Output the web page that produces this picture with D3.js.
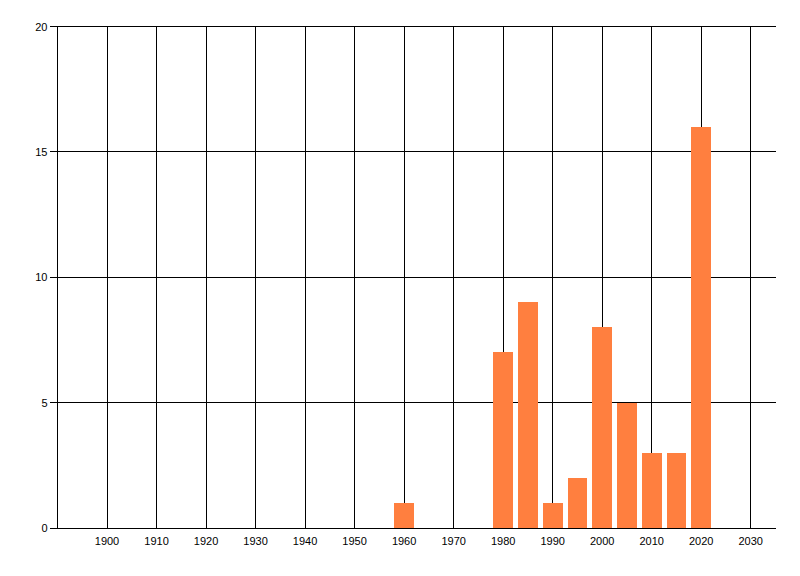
<!DOCTYPE html>
<html>
<head>
<meta charset="utf-8">
<script src="https://cdn.jsdelivr.net/npm/d3@7"></script>
<style>
  html, body { margin: 0; padding: 0; background: #fff; }
  svg { display: block; }
  text { font-family: "Liberation Sans", Arial, sans-serif; font-size: 11px; fill: #000; }
</style>
</head>
<body>
<svg id="chart" width="800" height="576"></svg>
<script>
const years = [1960, 1980, 1985, 1990, 1995, 2000, 2005, 2010, 2015, 2020];
const counts = [1, 7, 9, 1, 2, 8, 5, 3, 3, 16];
const xTicks = [1900, 1910, 1920, 1930, 1940, 1950, 1960, 1970, 1980, 1990, 2000, 2010, 2020, 2030];
const yTicks = [0, 5, 10, 15, 20];
const xDomain = [1890, 2035];
const yDomain = [0, 20];
const barYears = 4;

(function () {
const svg = d3.select("#chart");
const pLeft = 57.5, pRight = 775.5, pTop = 26.5, pBottom = 528;

const x = d3.scaleLinear().domain(xDomain).range([pLeft, pRight]);
const y = d3.scaleLinear().domain(yDomain).range([pBottom, pTop]);

const grid = svg.append("g").attr("shape-rendering", "crispEdges")
  .attr("stroke", "#000").attr("stroke-width", 1);

// vertical grid lines
grid.selectAll(".vg").data(xTicks).enter().append("line")
  .attr("x1", d => x(d)).attr("x2", d => x(d))
  .attr("y1", pTop).attr("y2", pBottom);

// horizontal grid lines (with tick to the left)
grid.selectAll(".hg").data(yTicks).enter().append("line")
  .attr("x1", pLeft - 8).attr("x2", pRight)
  .attr("y1", d => y(d)).attr("y2", d => y(d));

// left axis line
grid.append("line").attr("x1", pLeft).attr("x2", pLeft).attr("y1", pTop).attr("y2", pBottom);

// bars
svg.append("g").attr("shape-rendering", "crispEdges")
  .selectAll("rect").data(years).enter().append("rect")
  .attr("x", d => x(d - barYears / 2))
  .attr("width", d => x(d + barYears / 2) - x(d - barYears / 2))
  .attr("y", (d, i) => y(counts[i]))
  .attr("height", (d, i) => y(0) - y(counts[i]))
  .attr("fill", "#ff7f3f");

// bottom axis line drawn over bars
svg.append("line").attr("shape-rendering", "crispEdges").attr("stroke", "#000")
  .attr("x1", pLeft - 8).attr("x2", pRight).attr("y1", pBottom).attr("y2", pBottom);

// x labels
svg.append("g").selectAll("text").data(xTicks).enter().append("text")
  .attr("x", d => x(d)).attr("y", pBottom + 17)
  .attr("text-anchor", "middle")
  .text(d => d);

// y labels
svg.append("g").selectAll("text").data(yTicks).enter().append("text")
  .attr("x", pLeft - 10).attr("y", d => y(d) + 4)
  .attr("text-anchor", "end")
  .text(d => d);
})();
</script>
</body>
</html>
